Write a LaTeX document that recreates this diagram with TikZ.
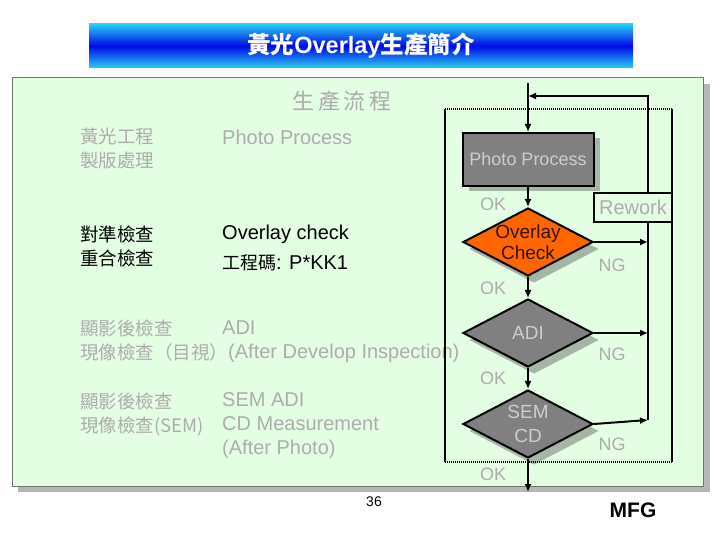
\documentclass[tikz,border=0pt]{standalone}
\usepackage{fontspec}
\setmainfont{Liberation Sans}
\newfontfamily\cjk{Noto Sans CJK TC}
\usetikzlibrary{positioning,shapes.geometric,shadows,arrows.meta}
\definecolor{panelgreen}{RGB}{228,254,228}
\definecolor{panelshadow}{RGB}{182,182,182}
\definecolor{boxgray}{RGB}{128,128,128}
\definecolor{boxtext}{RGB}{205,205,205}
\definecolor{shadowgreen}{RGB}{166,182,166}
\definecolor{textgray}{RGB}{172,172,172}
\definecolor{checkorange}{RGB}{255,102,0}
\definecolor{titlecyan}{RGB}{40,205,245}
\definecolor{titleblue}{RGB}{0,10,230}
\newcommand{\setpx}[2]{\fontsize{#1}{#2}\selectfont}

\begin{document}
\begin{tikzpicture}[x=1pt, y=-1pt,
        flowbox/.style={rectangle, draw, line width=2pt, fill=boxgray, text=boxtext, minimum width=131pt, minimum height=53pt, font=\setpx{18}{20},
            drop shadow={shadow xshift=6pt, shadow yshift=-5pt, fill=shadowgreen, opacity=1}},
        decision/.style={diamond, draw, line width=2pt, aspect=1.9, inner sep=-5pt, minimum width=130pt, minimum height=68pt, align=center, font=\setpx{19}{21},
            drop shadow={shadow xshift=6pt, shadow yshift=-7pt, fill=shadowgreen, opacity=1}},
        arrow/.style={->, line width=2pt, >={Latex[length=8pt,width=7pt]}},
        line/.style={line width=2pt},
        framedot/.style={line width=1.6pt, dash pattern=on 1pt off 1pt},
        lbl/.style={font=\setpx{18}{20}, text=textgray, inner sep=0pt},
        cjktext/.style={font=\cjk\setpx{18.5}{24}, align=left, anchor=west, inner sep=0pt},
        entext/.style={font=\setpx{20}{24}, align=left, anchor=west, inner sep=0pt}
    ]
        \useasboundingbox (0,0) rectangle (720,540);
        % Title bar
        \node[rectangle, minimum width=544pt, minimum height=44pt, top color=titlecyan, bottom color=titlecyan, middle color=titleblue,
            text=white, font=\cjk\bfseries\setpx{23.5}{24}] (title) at (361,46) {黃光\textrm{\bfseries Overlay}生產簡介};
        % Panel
        \fill[panelshadow] (18,84) rectangle (710,492);
        \draw[fill=panelgreen, draw={rgb,255:red,110;green,120;blue,110}, line width=1pt] (12,78) rectangle (703,486);
        \node[font=\cjk\setpx{22}{24}, text=textgray] (heading) at (342,101) {生\,產\,流\,程};
        % Left column
        \node[cjktext, text=textgray] (photozh) at (80,149) {黃光工程\\製版處理};
        \node[entext, text=textgray] (photoen) at (222,137) {Photo Process};
        \node[cjktext] (ovzh) at (80,246) {對準檢查\\重合檢查};
        \node[entext] (oven) at (222,234) {Overlay check};
        \node[entext] (ovcode) at (222,263) {{\cjk\setpx{18}{24}工程碼}: P*KK1};
        \node[cjktext, text=textgray] (adizh) at (80,341) {顯影後檢查\\現像檢查（目視）};
        \node[entext, text=textgray] (adien) at (222,328) {ADI};
        \node[entext, text=textgray] (adiex) at (228,353) {(After Develop Inspection)};
        \node[cjktext, text=textgray] (semzh) at (80,414) {顯影後檢查\\現像檢查(SEM)};
        \node[entext, text=textgray] (semen) at (222,426) {SEM ADI\\CD Measurement\\(After Photo)};
        % Flow
        \node[flowbox] (photo) at (528,159.5) {Photo Process};
        \node[decision, fill=checkorange, text={rgb,255:red,50;green,20;blue,0}, below=20pt of photo] (ov) {Overlay\\Check};
        \node[decision, fill=boxgray, text=boxtext, below=21pt of ov] (adi) {ADI};
        \node[decision, fill=boxgray, text=boxtext, below=21pt of adi, font=\setpx{19}{24}] (sem) {SEM\\CD};
        \coordinate (feed) at (528,83);
        \coordinate (join) at (528,96);
        \coordinate (out) at (528,492);
        \coordinate (ngbus) at (648,420);
        \coordinate (frameNW) at (445,109);
        \coordinate (frameSE) at (672,462);
        % Dotted frame
        \draw[line] (frameNW) -- (frameNW |- frameSE);
        \draw[line] (frameSE |- frameNW) -- (frameSE);
        \draw[framedot] (frameNW) -- (frameSE |- frameNW);
        \draw[framedot] (frameNW |- frameSE) -- (frameSE);
        % Arrows
        \draw[arrow] (feed) -- (photo);
        \draw[arrow] (photo) -- (ov);
        \draw[arrow] (ov) -- (adi);
        \draw[arrow] (adi) -- (sem);
        \draw[arrow] (sem) -- (out);
        \draw[arrow] (ov.east) -- (ov.east -| ngbus);
        \draw[arrow] (adi.east) -- (adi.east -| ngbus);
        \draw[arrow] (sem.east) -- (ngbus);
        \draw[arrow] (ngbus) |- (join);
        \node[rectangle, draw, line width=1.5pt, fill=panelgreen, text=textgray, minimum width=78pt, minimum height=29pt, font=\setpx{20}{22}] (rework) at (633,207.5) {Rework};
        % Labels
        \node[lbl] (ok1) at (493,204) {OK};
        \node[lbl] (ok2) at (493,288) {OK};
        \node[lbl] (ok3) at (493,378) {OK};
        \node[lbl] (ok4) at (493,474) {OK};
        \node[lbl] (ng1) at (612,265) {NG};
        \node[lbl] (ng2) at (612,354) {NG};
        \node[lbl] (ng3) at (612,444) {NG};
        % Footer
        \node[font=\setpx{14}{16}] (page) at (374,502) {36};
        \node[font=\bfseries\setpx{21}{24}] (mfg) at (633,510) {MFG};
    \end{tikzpicture}
\end{document}
